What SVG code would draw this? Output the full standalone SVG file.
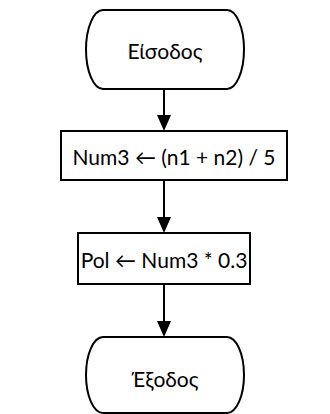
<svg xmlns="http://www.w3.org/2000/svg" width="330" height="414" viewBox="0 0 330 414">
<defs>
<style>
.s{fill:#fff;stroke:#000;stroke-width:2}
.t{font-family:Lato,"Noto Sans","DejaVu Sans",sans-serif;font-size:21px;fill:#000;text-anchor:middle;dominant-baseline:central}
.c{stroke:#000;stroke-width:2;fill:none}
</style>
</defs>
<rect width="330" height="414" fill="#fff"/>
<g id="start">
<path class="s" d="M103,10 H227 A17,39.5 0 0 1 227,89 H103 A17,39.5 0 0 1 103,10 Z"/>
<text class="t" x="165" y="50">Είσοδος</text>
</g>
<g id="step1">
<rect class="s" x="61" y="131" width="226" height="49"/>
<text class="t" x="174" y="156">Num3 ← (n1 + n2) / 5</text>
</g>
<g id="step2">
<rect class="s" x="78" y="233" width="172" height="51"/>
<text class="t" x="164" y="259">Pol ← Num3 * 0.3</text>
</g>
<g id="end">
<path class="s" d="M103,337 H227 A17,38 0 0 1 227,413 H103 A17,38 0 0 1 103,337 Z"/>
<text class="t" x="165" y="378">Έξοδος</text>
</g>
<g id="connectors" fill="#000">
<line class="c" x1="164" y1="89" x2="164" y2="116"/>
<path d="M157,115 L171,115 L164,131 Z"/>
<line class="c" x1="164" y1="180" x2="164" y2="218"/>
<path d="M157,217 L171,217 L164,233 Z"/>
<line class="c" x1="164" y1="284" x2="164" y2="322"/>
<path d="M157,321 L171,321 L164,337 Z"/>
</g>
</svg>
